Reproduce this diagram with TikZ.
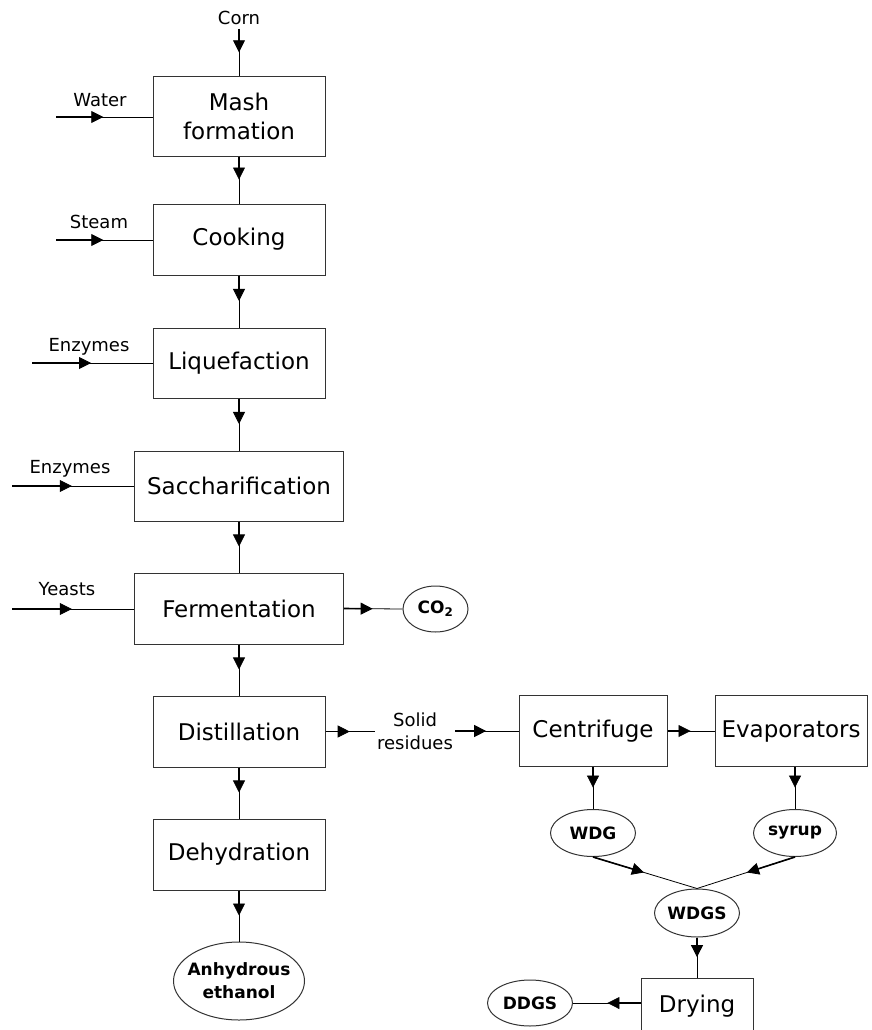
\documentclass[tikz,border=0pt]{standalone}
\usepackage{fontspec}
\setmainfont{DejaVu Sans}
\usetikzlibrary{arrows.meta,decorations.markings,shapes.geometric}

\tikzset{
  unit/.style={draw=black!80, line width=1pt, rectangle, inner sep=0pt,
    align=center, font=\fontsize{23}{29}\selectfont},
  product/.style={draw=black!80, line width=1pt, ellipse, inner sep=0pt,
    font=\bfseries\fontsize{17}{23}\selectfont},
  stream/.style={font=\fontsize{18}{23}\selectfont, inner sep=0pt, anchor=base},
  % thin line with a heavier lead-in and a solid head half way along
  flow/.style={draw=black, line width=0.8pt,
    postaction={decorate, decoration={markings,
      mark=at position 0.49 with {
        \draw[line width=1.6pt] (-0.49*\pgfdecoratedpathlength,0) -- (-6pt,0);
        \arrow{Triangle[length=12pt,width=12pt]}}}}},
}

\begin{document}
\begin{tikzpicture}[x=1pt,y=-1pt]
\useasboundingbox (0,0) rectangle (872,1030);

% main process line
\node[unit, minimum width=172pt, minimum height=79pt] (mash) at (239,116.5) {Mash\\formation};
\node[unit, minimum width=172pt, minimum height=71pt] (cook) at (239,239.5) {Cooking};
\node[unit, minimum width=172pt, minimum height=70pt] (liq)  at (239,363) {Liquefaction};
\node[unit, minimum width=209pt, minimum height=70pt] (sacc) at (239,486) {Saccharification};
\node[unit, minimum width=209pt, minimum height=71pt] (ferm) at (239,608.5) {Fermentation};
\node[unit, minimum width=172pt, minimum height=71pt] (dist) at (239,731.5) {Distillation};
\node[unit, minimum width=172pt, minimum height=71pt] (dehy) at (239,854.5) {Dehydration};
\node[product, minimum width=131pt, minimum height=78pt,
  label={[align=center, font=\bfseries\fontsize{17}{23}\selectfont]center:Anhydrous\\ethanol}] (eth) at (239,981) {};

% by-product line
\node[unit, minimum width=148pt, minimum height=71pt] (cent) at (593,731) {Centrifuge};
\node[unit, minimum width=152pt, minimum height=71pt] (evap) at (791,731) {Evaporators};
\node[product, minimum width=85pt, minimum height=47pt] (wdg) at (593,833) {WDG};
\node[product, minimum width=83pt, minimum height=47pt] (syrup) at (795,833) {syrup};
\node[product, minimum width=85pt, minimum height=48pt] (wdgs) at (697,913) {WDGS};
\node[unit, minimum width=112pt, minimum height=56pt] (drying) at (697,1006) {Drying};
\node[product, minimum width=85pt, minimum height=46pt] (ddgs) at (530,1003) {DDGS};
\node[product, minimum width=65pt, minimum height=46pt] (co2) at (435.5,609) {CO\textsubscript{2}};

% inputs
\node[stream] (cornL)  at (239,25)  {Corn};
\node[stream] (waterL) at (100,107) {Water};
\node[stream] (steamL) at (99,228)  {Steam};
\node[stream] (enzA)   at (89,351)  {Enzymes};
\node[stream] (enzB)   at (70,473)  {Enzymes};
\node[stream] (yeastL) at (67,595)  {Yeasts};
\node[align=center, inner sep=2pt, font=\fontsize{18}{23}\selectfont] (sr) at (415,731) {Solid\\residues};

\coordinate (cornIn)  at (239,29);
\coordinate (waterIn) at (56,117);
\coordinate (steamIn) at (56,240);
\coordinate (enzAIn)  at (32,363);
\coordinate (enzBIn)  at (12,486);
\coordinate (yeastIn) at (12,609);

\draw[flow] (cornIn) -- (mash.north);
\draw[flow] (waterIn) -- (waterIn -| mash.west);
\draw[flow] (steamIn) -- (steamIn -| cook.west);
\draw[flow] (enzAIn) -- (enzAIn -| liq.west);
\draw[flow] (enzBIn) -- (enzBIn -| sacc.west);
\draw[flow] (yeastIn) -- (yeastIn -| ferm.west);

\draw[flow] (mash.south) -- (cook.north);
\draw[flow] (cook.south) -- (liq.north);
\draw[flow] (liq.south) -- (sacc.north);
\draw[flow] (sacc.south) -- (ferm.north);
\draw[flow] (ferm.south) -- (dist.north);
\draw[flow] (dist.south) -- (dehy.north);
\draw[flow] (dehy.south) -- (eth.north);
\draw[flow] (ferm.east) -- (co2.west);

\draw[flow] (dist.east) -- (dist.east -| sr.west);
\draw[flow] (sr.east |- cent.west) -- (cent.west);
\draw[flow] (cent.east) -- (evap.west);
\draw[flow] (cent.south) -- (wdg.north);
\draw[flow] (evap.south -| syrup.north) -- (syrup.north);
\draw[flow] (wdg.south) -- (wdgs.north);
\draw[flow] (syrup.south) -- (wdgs.north);
\draw[flow] (wdgs.south) -- (drying.north);
\draw[flow] (ddgs.east -| drying.west) -- (ddgs.east);
\end{tikzpicture}
\end{document}
